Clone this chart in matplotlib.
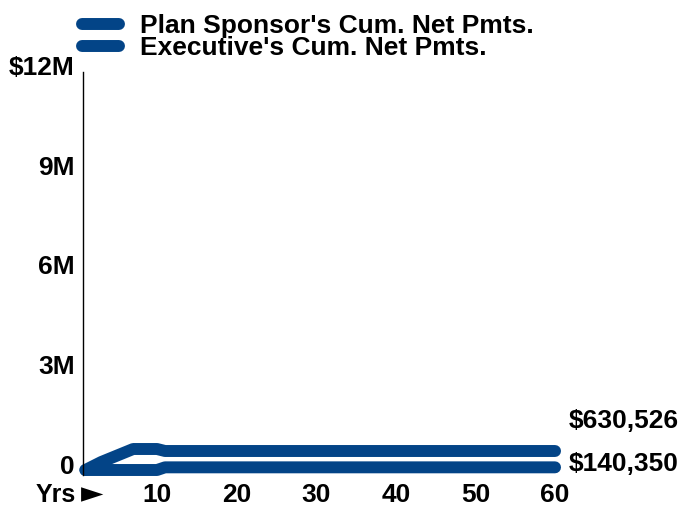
import matplotlib
matplotlib.use("Agg")
import matplotlib.pyplot as plt
from matplotlib.transforms import ScaledTranslation

# ---------- Data -------------------------------------------------------------

sponsor_years = [1, 3, 7, 10, 11, 60]
sponsor_vals = [0.06, 0.30, 0.69, 0.69, 0.63, 0.63]     # $M

exec_years = [1, 10, 11, 60]
exec_vals = [0.06, 0.06, 0.14, 0.14]                     # $M

series_names = ["Plan Sponsor's Cum. Net Pmts.", "Executive's Cum. Net Pmts."]
end_labels = ["$630,526", "$140,350"]

x_ticks = [10, 20, 30, 40, 50, 60]
y_ticks = [0, 3, 6, 9, 12]
y_tick_labels = ["0", "3M", "6M", "9M", "$12M"]

# ---------- Plot -------------------------------------------------------------

plt.rcParams["font.family"] = ["Liberation Sans", "DejaVu Sans"]
plt.rcParams["font.weight"] = "bold"

BLUE = "#034487"
LW = 8.6
FS = 19

fig = plt.figure(figsize=(6.8, 5.07), dpi=100)
ax = fig.add_axes([83 / 680, 1 - 475 / 507, 480 / 680, 403 / 507])

line_kw = dict(color=BLUE, linewidth=LW, solid_capstyle="round",
               solid_joinstyle="round", clip_on=False)
l1, = ax.plot(sponsor_years, sponsor_vals, **line_kw)
l2, = ax.plot(exec_years, exec_vals, **line_kw)

ax.set_xlim(0.7, 61.0)
ax.set_ylim(-0.09, 12)

for s in ("top", "right", "bottom"):
    ax.spines[s].set_visible(False)
ax.spines["left"].set_linewidth(1.0)

ax.set_xticks(x_ticks, [str(t) for t in x_ticks])
ax.set_yticks(y_ticks, y_tick_labels)
ax.tick_params(length=0, labelsize=FS, pad=6)
ax.tick_params(axis="y", pad=6)
lift = ScaledTranslation(0, 7 / 100, fig.dpi_scale_trans)
for lab in ax.get_yticklabels():
    lab.set_transform(lab.get_transform() + lift)
for lab in ax.get_xticklabels() + ax.get_yticklabels():
    lab.set_fontweight("bold")

# end-of-line value labels
ax.annotate(end_labels[0], xy=(sponsor_years[-1], sponsor_vals[-1]),
            xytext=(9.5, 21.5), textcoords="offset points",
            ha="left", va="center", fontsize=FS, fontweight="bold",
            annotation_clip=False)
ax.annotate(end_labels[1], xy=(exec_years[-1], exec_vals[-1]),
            xytext=(9.5, 2.5), textcoords="offset points",
            ha="left", va="center", fontsize=FS, fontweight="bold",
            annotation_clip=False)

# "Yrs >" marker at the x axis origin
fig.text(76 / 680, 1 - 495 / 507, "Yrs", ha="right", va="center",
         fontsize=18, fontweight="bold")
fig.text(81 / 680, 1 - 494 / 507, "\u25BA", ha="left", va="center",
         fontsize=21, family="DejaVu Sans")

# legend
leg = fig.legend([l1, l2], series_names, loc="upper left",
                 bbox_to_anchor=(82 / 680, 1 - 14 / 507),
                 frameon=False, fontsize=FS, handlelength=1.4,
                 handletextpad=0.8, labelspacing=-0.06, borderaxespad=0,
                 borderpad=0)
for t in leg.get_texts():
    t.set_fontweight("bold")

fig.savefig("out.png", dpi=100)
